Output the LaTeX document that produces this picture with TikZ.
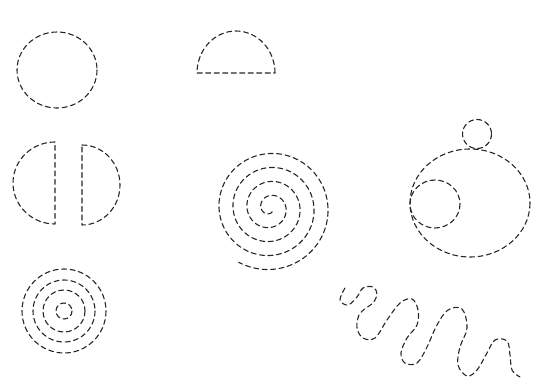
\documentclass[tikz,border=0pt]{standalone}
\begin{document}
\begin{tikzpicture}[x=1pt,y=-1pt,
  dsh/.style={draw=black!85,line width=1.1pt,dash pattern=on 5pt off 3.5pt,line cap=round,line join=round}]
\useasboundingbox (0,0) rectangle (538,390);
% circle
\draw[dsh] (57,70) ellipse[x radius=40,y radius=38];
% semicircle
\draw[dsh] (275,73) arc[start angle=0,end angle=-180,x radius=39,y radius=42] -- cycle;
% split circle
\draw[dsh] (55,142) arc[start angle=-90,end angle=-270,x radius=42,y radius=41] -- cycle;
\draw[dsh] (82,145) arc[start angle=-90,end angle=90,x radius=38,y radius=40] -- cycle;
% spiral
\draw[dsh] plot[domain=60:1560,samples=260,smooth,variable=\t]
  ({270+(2+\t/360*14)*cos(\t)},{208+(2+\t/360*14)*sin(\t)});
% concentric circles
\foreach \r in {42,31,21,8}{\draw[dsh] (64,311) circle[radius=\r];}
% blob
\draw[dsh] (470,203) ellipse[x radius=60,y radius=54];
\draw[dsh] (477,134) circle[radius=14.5];
\draw[dsh] (435,204) ellipse[x radius=25,y radius=24];
% wave
\draw[dsh] plot[smooth,tension=0.6] coordinates {
 (345,288) (340,300) (348,305) (357,297) (363,288) (373,287) (377,294) (373,303)
 (366,308) (359,315) (357,328) (363,338) (375,338) (387,320) (400,303) (412,299)
 (418,310) (417,325) (407,338) (401,353) (405,363) (417,363) (427,347) (437,325)
 (448,310) (462,309) (467,328) (460,347) (458,365) (467,376) (477,370) (487,353)
 (495,340) (507,341) (510,355) (512,370) (520,377)};
\end{tikzpicture}
\end{document}
